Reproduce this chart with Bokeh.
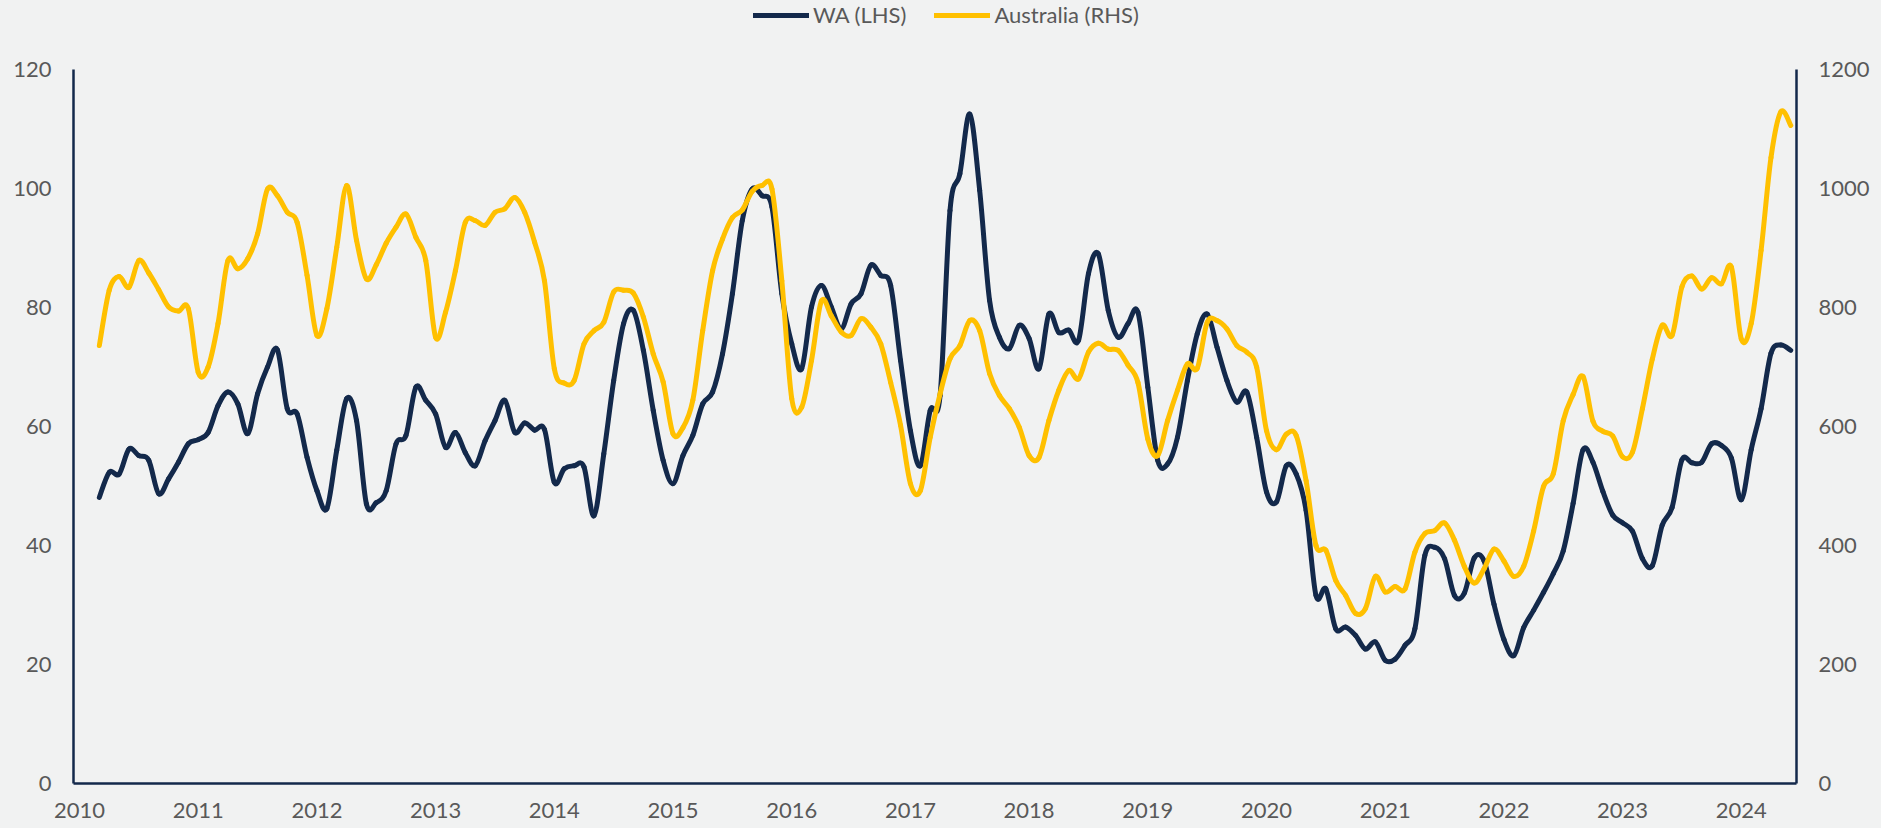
import pandas as pd
from bokeh.plotting import figure
from bokeh.models import (Range1d, LinearAxis, FixedTicker, Legend, LegendItem,
                          ColumnDataSource)
from bokeh.embed import file_html
from bokeh.resources import INLINE

# ---------------- data (monthly, Mar 2010 - Jun 2024) ----------------
months = pd.date_range("2010-03-01", "2024-06-01", freq="MS")

wa_lhs = [
    48.1, 52.3, 52.0, 56.2, 55.1, 54.3, 48.7, 51.2, 54.0, 57.1, 57.8, 59.0,
    63.5, 65.8, 63.8, 58.8, 65.5, 70.0, 72.9, 63.0, 62.1, 54.8, 49.2, 46.2,
    56.0, 64.7, 61.0, 47.0, 47.2, 49.2, 57.1, 58.5, 66.6, 64.4, 62.1, 56.5,
    59.0, 55.6, 53.4, 57.6, 61.0, 64.4, 59.0, 60.6, 59.4, 59.5, 50.6, 52.9,
    53.4, 53.2, 45.0, 55.4, 67.7, 77.3, 79.5, 72.8, 62.7, 54.3, 50.4, 55.1,
    58.5, 63.8, 65.8, 72.2, 82.3, 94.6, 99.9, 98.8, 96.9, 82.3, 73.9, 69.7,
    80.1, 83.7, 80.1, 76.4, 80.6, 82.3, 87.1, 85.4, 83.7, 71.1, 59.3, 53.4,
    62.7, 65.2, 96.3, 102.5, 112.5, 99.7, 81.2, 75.0, 73.1, 77.0, 74.8, 69.7,
    78.9, 75.8, 76.2, 74.5, 85.7, 89.0, 79.5, 75.0, 77.3, 79.2, 66.6, 54.3,
    53.7, 58.2, 67.7, 75.6, 78.9, 73.3, 67.7, 64.1, 65.8, 58.2, 49.0, 47.3,
    53.4, 52.0, 45.9, 31.6, 32.7, 26.0, 26.3, 24.9, 22.6, 23.8, 20.7, 20.9,
    23.2, 26.0, 38.3, 39.7, 37.8, 31.6, 32.0, 37.9, 37.4, 30.1, 24.2, 21.5,
    26.2, 29.1, 32.1, 35.3, 39.1, 47.1, 56.1, 54.0, 49.1, 45.1, 43.8, 42.4,
    37.8, 36.6, 43.4, 46.4, 54.4, 53.9, 54.0, 57.1, 56.8, 54.7, 47.7, 56.1,
    63.0, 72.3, 73.7, 72.8,
]

australia_rhs = [
    736, 829, 852, 834, 879, 858, 830, 801, 794, 798, 691, 700,
    773, 879, 865, 882, 924, 999, 988, 960, 943, 854, 753, 798,
    901, 1005, 913, 848, 872, 908, 935, 957, 918, 879, 750, 792,
    862, 943, 946, 938, 960, 966, 985, 960, 910, 845, 697, 673,
    677, 739, 761, 775, 826, 829, 824, 784, 722, 675, 588, 598,
    644, 761, 862, 915, 951, 964, 995, 1005, 999, 845, 647, 632,
    711, 811, 786, 759, 753, 781, 767, 739, 674, 602, 504, 492,
    582, 655, 714, 736, 778, 761, 689, 652, 630, 599, 551, 548,
    610, 661, 694, 680, 725, 740, 730, 728, 703, 674, 579, 551,
    610, 661, 705, 698, 775, 778, 764, 736, 725, 700, 593, 561,
    587, 585, 509, 400, 392, 341, 316, 286, 294, 348, 322, 331,
    327, 389, 420, 425, 438, 409, 365, 337, 361, 394, 374, 348,
    365, 424, 499, 521, 610, 654, 684, 609, 592, 584, 549, 557,
    630, 713, 770, 753, 835, 853, 831, 850, 840, 868, 747, 773,
    896, 1052, 1129, 1106,
]

year_ticks = list(range(2010, 2025))
lhs_ticks = [0, 20, 40, 60, 80, 100, 120]
rhs_ticks = [0, 200, 400, 600, 800, 1000, 1200]

series_labels = ["WA (LHS)", "Australia (RHS)"]

# ---------------- styling ----------------
BG = "#F1F2F2"
NAVY = "#13294B"
GOLD = "#FFC000"
TXT = "#595959"
FONT = "Lato"
FS = "22px"

x_dec = [d.year + (d.month - 1) / 12 for d in months]


def smooth_segments(xs, ys):
    """Bezier control points (Catmull-Rom style, like Excel's smoothed line)."""
    n = len(xs)
    out = dict(x0=[], y0=[], x1=[], y1=[], cx0=[], cy0=[], cx1=[], cy1=[])
    for i in range(n - 1):
        xp, yp = (xs[i - 1], ys[i - 1]) if i > 0 else (xs[i], ys[i])
        xn, yn = (xs[i + 2], ys[i + 2]) if i + 2 < n else (xs[i + 1], ys[i + 1])
        out["x0"].append(xs[i]); out["y0"].append(ys[i])
        out["x1"].append(xs[i + 1]); out["y1"].append(ys[i + 1])
        out["cx0"].append(xs[i] + (xs[i + 1] - xp) / 6)
        out["cy0"].append(ys[i] + (ys[i + 1] - yp) / 6)
        out["cx1"].append(xs[i + 1] - (xn - xs[i]) / 6)
        out["cy1"].append(ys[i + 1] - (yn - ys[i]) / 6)
    return ColumnDataSource(out)


# the frame reaches the top of the canvas (room for the legend); the axis
# lines are bounded to 0-120 / 0-1200 as in the reference
Y_TOP = 131.6
p = figure(width=1881, height=828, output_backend="svg", toolbar_location=None,
           x_range=Range1d(2009.949, 2024.465), y_range=Range1d(0, Y_TOP),
           min_border_left=73, min_border_right=85, min_border_top=0,
           min_border_bottom=45)
p.extra_y_ranges = {"rhs": Range1d(0, Y_TOP * 10)}
p.background_fill_color = BG
p.border_fill_color = BG
p.outline_line_color = None
p.xgrid.visible = False
p.ygrid.visible = False

r_wa = p.bezier(x0="x0", y0="y0", x1="x1", y1="y1", cx0="cx0", cy0="cy0",
                cx1="cx1", cy1="cy1", source=smooth_segments(x_dec, wa_lhs),
                line_color=NAVY, line_width=5, line_cap="round")
r_au = p.bezier(x0="x0", y0="y0", x1="x1", y1="y1", cx0="cx0", cy0="cy0",
                cx1="cx1", cy1="cy1", source=smooth_segments(x_dec, australia_rhs),
                line_color=GOLD, line_width=5, line_cap="round",
                y_range_name="rhs")

# axes
xa = p.xaxis[0]
xa.ticker = FixedTicker(ticks=year_ticks)
xa.major_label_overrides = {y: str(y) for y in year_ticks}

ya = p.yaxis[0]
ya.ticker = FixedTicker(ticks=lhs_ticks)
ya.bounds = (0, 120)

ra = LinearAxis(y_range_name="rhs", ticker=FixedTicker(ticks=rhs_ticks),
                bounds=(0, 1200))
p.add_layout(ra, "right")

for ax in (xa, ya, ra):
    ax.axis_line_color = NAVY
    ax.axis_line_width = 2.5
    ax.major_tick_line_color = None
    ax.minor_tick_line_color = None
    ax.major_tick_out = 0
    ax.major_tick_in = 0
    ax.major_label_text_color = TXT
    ax.major_label_text_font = FONT
    ax.major_label_text_font_size = FS
xa.major_label_standoff = 19
ya.major_label_standoff = 22
ra.major_label_standoff = 22

legend = Legend(items=[LegendItem(label=series_labels[0], renderers=[r_wa]),
                       LegendItem(label=series_labels[1], renderers=[r_au])],
                orientation="horizontal", location=(680, 755),
                glyph_width=56, glyph_height=20, label_standoff=4, spacing=28,
                padding=0, margin=0, background_fill_alpha=0,
                border_line_color=None, label_text_color=TXT,
                label_text_font=FONT, label_text_font_size=FS)
p.add_layout(legend, "center")

html = file_html(p, INLINE)
html = html.replace("</head>", "<style>body{background:%s;}</style></head>" % BG, 1)
open("out.html", "w").write(html)
